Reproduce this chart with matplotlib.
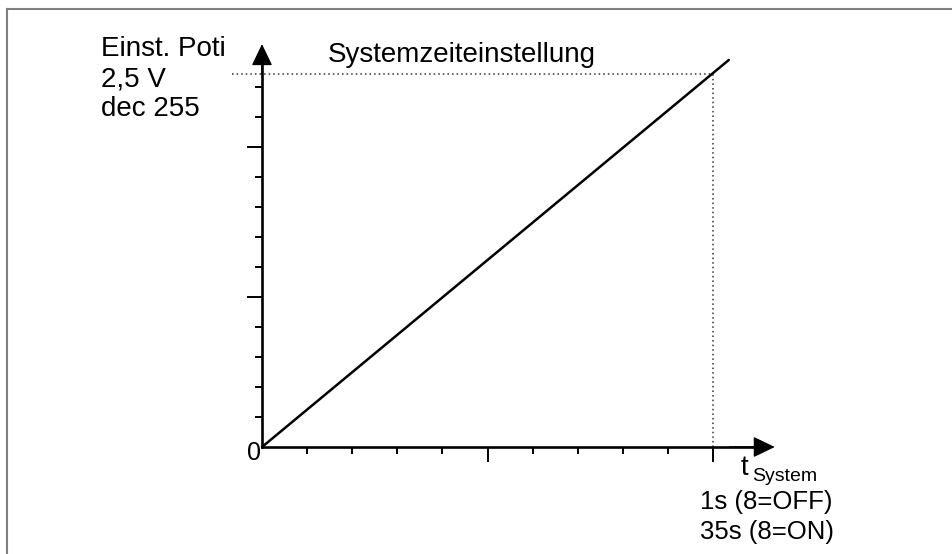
import matplotlib
matplotlib.use("Agg")
import matplotlib.pyplot as plt
from matplotlib.lines import Line2D

# ---- data ----
x_ticks_major = [5, 10]
x_ticks_minor = [1, 2, 3, 4, 6, 7, 8, 9]
y_ticks_major = [5, 10]
y_ticks_minor = [1, 2, 3, 4, 6, 7, 8, 9, 11, 12]
line_x = [0, 10.35]
line_y = [0, 12.9]
set_x = 10
set_y = 12.45
x_axis_end = 11.37
y_axis_end = 13.43
dotted_start_x = -0.665

y_label_lines = ["Einst. Poti", "2,5 V", "dec 255"]
title_text = "Systemzeiteinstellung"
x_label_main = "t"
x_label_sub = "System"
x_value_lines = ["1s (8=OFF)", "35s (8=ON)"]
origin_label = "0"

W, H = 952, 554
FONT = "Liberation Sans"

fig = plt.figure(figsize=(W / 100, H / 100), dpi=100)
fig.patch.set_facecolor("white")
ax = fig.add_axes([0, 0, 1, 1])

# scale: data (0,0) at pixel (262, 447); 45.1 px per x unit, 30 px per y unit
ox, oy = 262, 447
sx, sy = 45.1, 30.0
ax.set_xlim(-ox / sx, (W - ox) / sx)
ax.set_ylim(-(H - oy) / sy, oy / sy)
ax.set_facecolor("none")

for s in ["top", "right"]:
    ax.spines[s].set_visible(False)
ax.spines["left"].set_position(("data", 0))
ax.spines["bottom"].set_position(("data", 0))
ax.spines["left"].set_bounds(0, y_axis_end - 0.3)
ax.spines["bottom"].set_bounds(0, x_axis_end - 0.3)
for s in ["left", "bottom"]:
    ax.spines[s].set_linewidth(1.9)
    ax.spines[s].set_color("black")

ax.set_xticks(x_ticks_major)
ax.set_xticks(x_ticks_minor, minor=True)
ax.set_yticks(y_ticks_major)
ax.set_yticks(y_ticks_minor, minor=True)
ax.tick_params(which="both", direction="out", labelbottom=False, labelleft=False,
               color="black", width=1.4)
ax.tick_params(which="major", length=10.5)
ax.tick_params(which="minor", length=5)

# arrow heads
ap = dict(arrowstyle="-|>,head_length=1.35,head_width=0.65", mutation_scale=10,
          color="black", lw=1, shrinkA=0, shrinkB=0)
ax.annotate("", xy=(0, y_axis_end), xytext=(0, y_axis_end - 1.0), arrowprops=ap)
ax.annotate("", xy=(x_axis_end, 0), xytext=(x_axis_end - 1.0, 0), arrowprops=ap)

# dotted guide lines
ax.plot([dotted_start_x, set_x], [set_y, set_y], color="#333333", lw=1.1,
        linestyle=(0, (1, 2)))
ax.plot([set_x, set_x], [0, set_y], color="#333333", lw=1.1, linestyle=(0, (1, 2)))

# main line
ax.plot(line_x, line_y, color="black", lw=1.8, solid_capstyle="round")


def px(x, y):
    return x / W, 1 - y / H


# texts
for i, t in enumerate(y_label_lines):
    fig.text(*px(101, 56 + 30 * i), t, fontsize=20, family=FONT, va="baseline", ha="left")
fig.text(*px(328, 62), title_text, fontsize=20, family=FONT, va="baseline", ha="left")
fig.text(*px(247, 460), origin_label, fontsize=18, family=FONT, va="baseline", ha="left")
fig.text(*px(741, 475), x_label_main, fontsize=20, family=FONT, va="baseline", ha="left")
fig.text(*px(752, 481), x_label_sub, fontsize=14, family=FONT, va="baseline", ha="left")
for i, t in enumerate(x_value_lines):
    fig.text(*px(700, 509 + 30 * i), t, fontsize=18.5, family=FONT, va="baseline", ha="left")

# border (top and left only)
fig.add_artist(Line2D([7 / W, 1], [1 - 9 / H, 1 - 9 / H], transform=fig.transFigure,
                      color="#808080", lw=1.5))
fig.add_artist(Line2D([7 / W, 7 / W], [0, 1 - 9 / H], transform=fig.transFigure,
                      color="#808080", lw=1.5))

fig.savefig("out.png", dpi=100, facecolor="white")
